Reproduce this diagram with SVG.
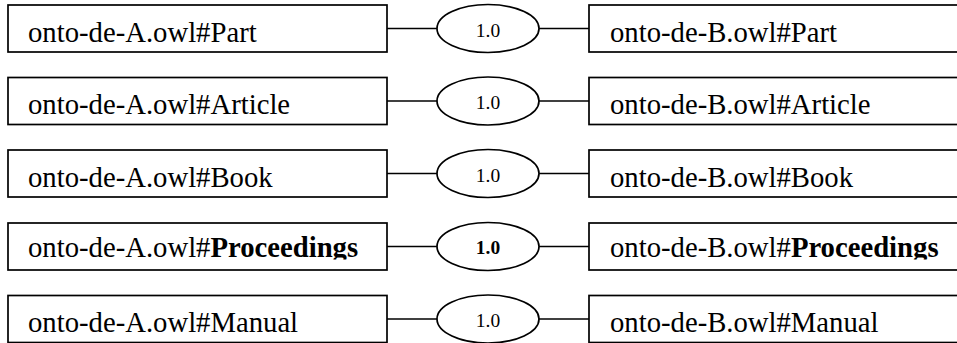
<svg xmlns="http://www.w3.org/2000/svg" width="957" height="343" viewBox="0 0 957 343">
<style>
.box{fill:#fff;stroke:#000;stroke-width:1.7}
.ell{fill:#fff;stroke:#000;stroke-width:1.7}
.edge{stroke:#000;stroke-width:1.7;fill:none}
.lbl{font-family:"Liberation Serif","Times New Roman",serif;font-size:28.7px;fill:#000}
.sc{font-family:"Liberation Serif","Times New Roman",serif;font-size:19.5px;fill:#000;text-anchor:middle}
.b{font-weight:bold}
</style>
<defs>
<clipPath id="clip4"><rect x="0" y="215" width="957" height="44.5"/></clipPath>
</defs>
<rect width="957" height="343" fill="#fff"/>
<g id="connectors">
<line class="edge" x1="387" y1="28.5" x2="437" y2="28.5"/>
<line class="edge" x1="539" y1="28.5" x2="589" y2="28.5"/>
<line class="edge" x1="387" y1="101" x2="437" y2="101"/>
<line class="edge" x1="539" y1="101" x2="589" y2="101"/>
<line class="edge" x1="387" y1="173.5" x2="437" y2="173.5"/>
<line class="edge" x1="539" y1="173.5" x2="589" y2="173.5"/>
<line class="edge" x1="387" y1="246.5" x2="437" y2="246.5"/>
<line class="edge" x1="539" y1="246.5" x2="589" y2="246.5"/>
<line class="edge" x1="387" y1="319" x2="437" y2="319"/>
<line class="edge" x1="539" y1="319" x2="589" y2="319"/>
</g>
<g id="a-part"><rect class="box" x="8" y="5" width="379" height="47"/><text class="lbl" x="28" y="42">onto-de-A.owl#Part</text></g>
<g id="m-part"><ellipse class="ell" cx="488" cy="28.5" rx="51" ry="24"/><text class="sc" x="488" y="36.5">1.0</text></g>
<g id="b-part"><rect class="box" x="589" y="5" width="380" height="47"/><text class="lbl" x="610" y="42">onto-de-B.owl#Part</text></g>

<g id="a-article"><rect class="box" x="8" y="77.5" width="379" height="47"/><text class="lbl" x="28" y="114">onto-de-A.owl#Article</text></g>
<g id="m-article"><ellipse class="ell" cx="488" cy="101" rx="51" ry="24"/><text class="sc" x="488" y="109">1.0</text></g>
<g id="b-article"><rect class="box" x="589" y="77.5" width="380" height="47"/><text class="lbl" x="610" y="114">onto-de-B.owl#Article</text></g>

<g id="a-book"><rect class="box" x="8" y="150" width="379" height="47"/><text class="lbl" x="28" y="187">onto-de-A.owl#Book</text></g>
<g id="m-book"><ellipse class="ell" cx="488" cy="173.5" rx="51" ry="24"/><text class="sc" x="488" y="181.5">1.0</text></g>
<g id="b-book"><rect class="box" x="589" y="150" width="380" height="47"/><text class="lbl" x="610" y="187">onto-de-B.owl#Book</text></g>

<g id="a-proceedings"><rect class="box" x="8" y="223" width="379" height="47"/><text class="lbl" x="28" y="257" clip-path="url(#clip4)">onto-de-A.owl#<tspan class="b">Proceedings</tspan></text></g>
<g id="m-proceedings"><ellipse class="ell" cx="488" cy="246.5" rx="51" ry="24"/><text class="sc b" x="488" y="254">1.0</text></g>
<g id="b-proceedings"><rect class="box" x="589" y="223" width="380" height="47"/><text class="lbl" x="610" y="257" clip-path="url(#clip4)">onto-de-B.owl#<tspan class="b">Proceedings</tspan></text></g>

<g id="a-manual"><rect class="box" x="8" y="295.5" width="379" height="47"/><text class="lbl" x="28" y="332">onto-de-A.owl#Manual</text></g>
<g id="m-manual"><ellipse class="ell" cx="488" cy="319" rx="51" ry="24"/><text class="sc" x="488" y="327">1.0</text></g>
<g id="b-manual"><rect class="box" x="589" y="295.5" width="380" height="47"/><text class="lbl" x="610" y="332">onto-de-B.owl#Manual</text></g>
</svg>
